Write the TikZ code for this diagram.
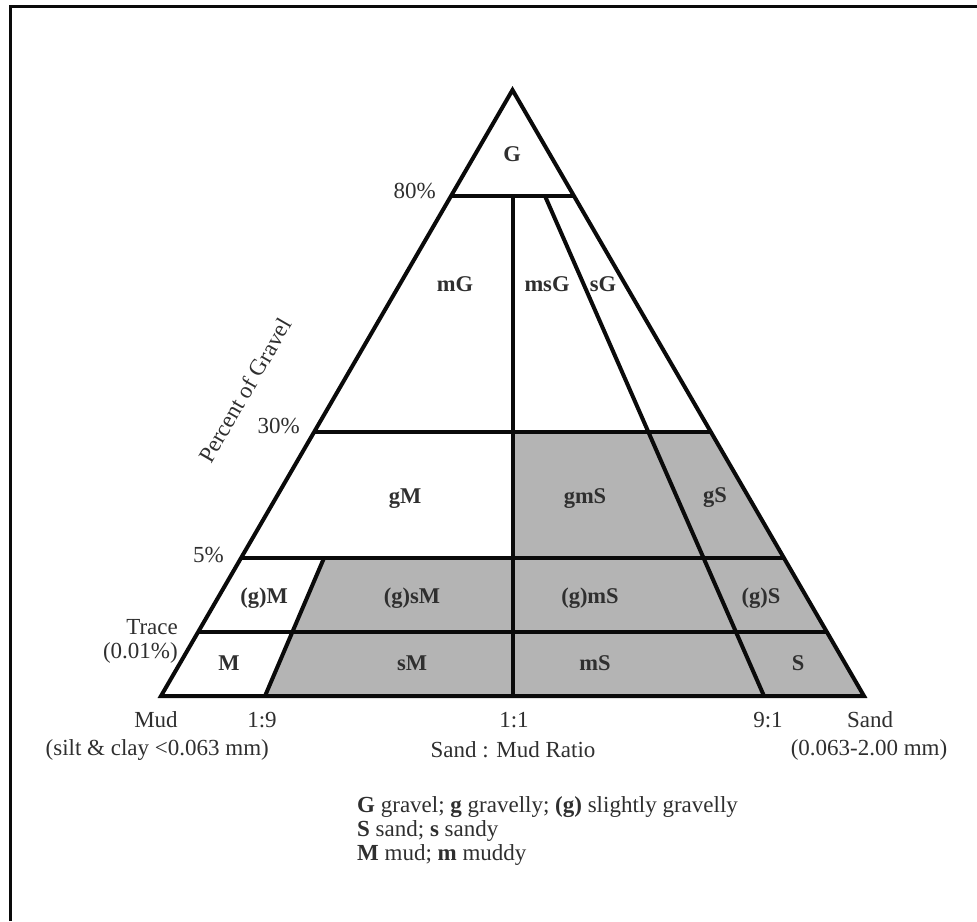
\documentclass[tikz,border=0pt]{standalone}
\usepackage{fontspec}
\setmainfont{Liberation Serif}
\definecolor{cellgrey}{RGB}{180,180,180}
\definecolor{ink}{RGB}{10,10,10}
\begin{document}
\begin{tikzpicture}[x=1pt,y=-1pt,
  edge/.style={line width=4pt, draw=ink, line join=miter},
  lab/.style={font=\fontsize{22.5}{26}\selectfont\bfseries, inner sep=0pt, anchor=base, text=ink!85},
  txt/.style={font=\fontsize{23}{27}\selectfont, inner sep=0pt, text=ink!85}]
\useasboundingbox (0,0) rectangle (977,921);
\fill[white] (0,0) rectangle (977,921);
% frame (only top and left visible)
\draw[line width=3.2pt, draw=ink] (10.5,921) -- (10.5,6.5) -- (977,6.5);
% key points
\coordinate (A) at (512.5,90);
\coordinate (BL) at (161,696);
\coordinate (BR) at (864,696);
\coordinate (L80) at (451.5,196); \coordinate (R80) at (573.5,196);
\coordinate (L30) at (314.4,432); \coordinate (R30) at (710.6,432);
\coordinate (L5) at (241.2,558);  \coordinate (R5) at (783.8,558);
\coordinate (LT) at (198.2,632);  \coordinate (RT) at (826.8,632);
\coordinate (V80) at (513,196); \coordinate (V30) at (513,432);
\coordinate (V5) at (513,558);  \coordinate (V0) at (513,696);
\coordinate (N80) at (545,196); \coordinate (N0) at (764,696);
\coordinate (O5) at (324,558);  \coordinate (O0) at (265,696);
% grey cells
\fill[cellgrey] (V30) -- (R30) -- (R5) -- (V5) -- cycle;
\fill[cellgrey] (O5) -- (R5) -- (BR) -- (O0) -- cycle;
% internal lines
\draw[edge] (L80) -- (R80);
\draw[edge] (L30) -- (R30);
\draw[edge] (L5) -- (R5);
\draw[edge] (LT) -- (RT);
\draw[edge] (V80) -- (V0);
\draw[edge] (N80) -- (N0);
\draw[edge] (O5) -- (O0);
\draw[edge] (A) -- (BR) -- (BL) -- cycle;
% class labels
\node[lab] (G) at (512,161) {G};
\node[lab] (mG) at (455,291) {mG};
\node[lab] (msG) at (547,291) {msG};
\node[lab] (sG) at (603,291) {sG};
\node[lab] (gM) at (405,503) {gM};
\node[lab] (gmS) at (585,503) {gmS};
\node[lab] (gS) at (715,502) {gS};
\node[lab] (gpM) at (264,603) {(g)M};
\node[lab] (gpsM) at (412,603) {(g)sM};
\node[lab] (gpmS) at (590,603) {(g)mS};
\node[lab] (gpS) at (761,603) {(g)S};
\node[lab] (M) at (229,670) {M};
\node[lab] (sM) at (412,670) {sM};
\node[lab] (mS) at (595,670) {mS};
\node[lab] (S) at (798,670) {S};
% axis labels
\node[txt, anchor=base east] (p80) at (436,198) {80\%};
\node[txt, anchor=base east] (p30) at (300,433) {30\%};
\node[txt, anchor=base east] (p5) at (224,562) {5\%};
\node[txt, anchor=base east] (trace) at (178,634) {Trace};
\node[txt, anchor=base east] (tracev) at (178,658) {(0.01\%)};
\node[txt, anchor=base west, rotate=60] (pg) at (211,465) {Percent of Gravel};
\node[txt, anchor=base] (mud) at (156,727) {Mud};
\node[txt, anchor=base east] (mudd) at (269,755) {(silt \& clay <0.063 mm)};
\node[txt, anchor=base] (r19) at (262,727) {1:9};
\node[txt, anchor=base] (r11) at (514,727) {1:1};
\node[txt, anchor=base] (ratio) at (513,757) {Sand : Mud Ratio};
\node[txt, anchor=base] (r91) at (768,727) {9:1};
\node[txt, anchor=base] (sand) at (870,727) {Sand};
\node[txt, anchor=base] (sandd) at (869,755) {(0.063-2.00 mm)};
% legend
\node[txt, anchor=base west] (k1) at (357,812) {\textbf{G} gravel; \textbf{g} gravelly; \textbf{(g)} slightly gravelly};
\node[txt, anchor=base west] (k2) at (357,836) {\textbf{S} sand; \textbf{s} sandy};
\node[txt, anchor=base west] (k3) at (357,860) {\textbf{M} mud; \textbf{m} muddy};
\end{tikzpicture}
\end{document}
